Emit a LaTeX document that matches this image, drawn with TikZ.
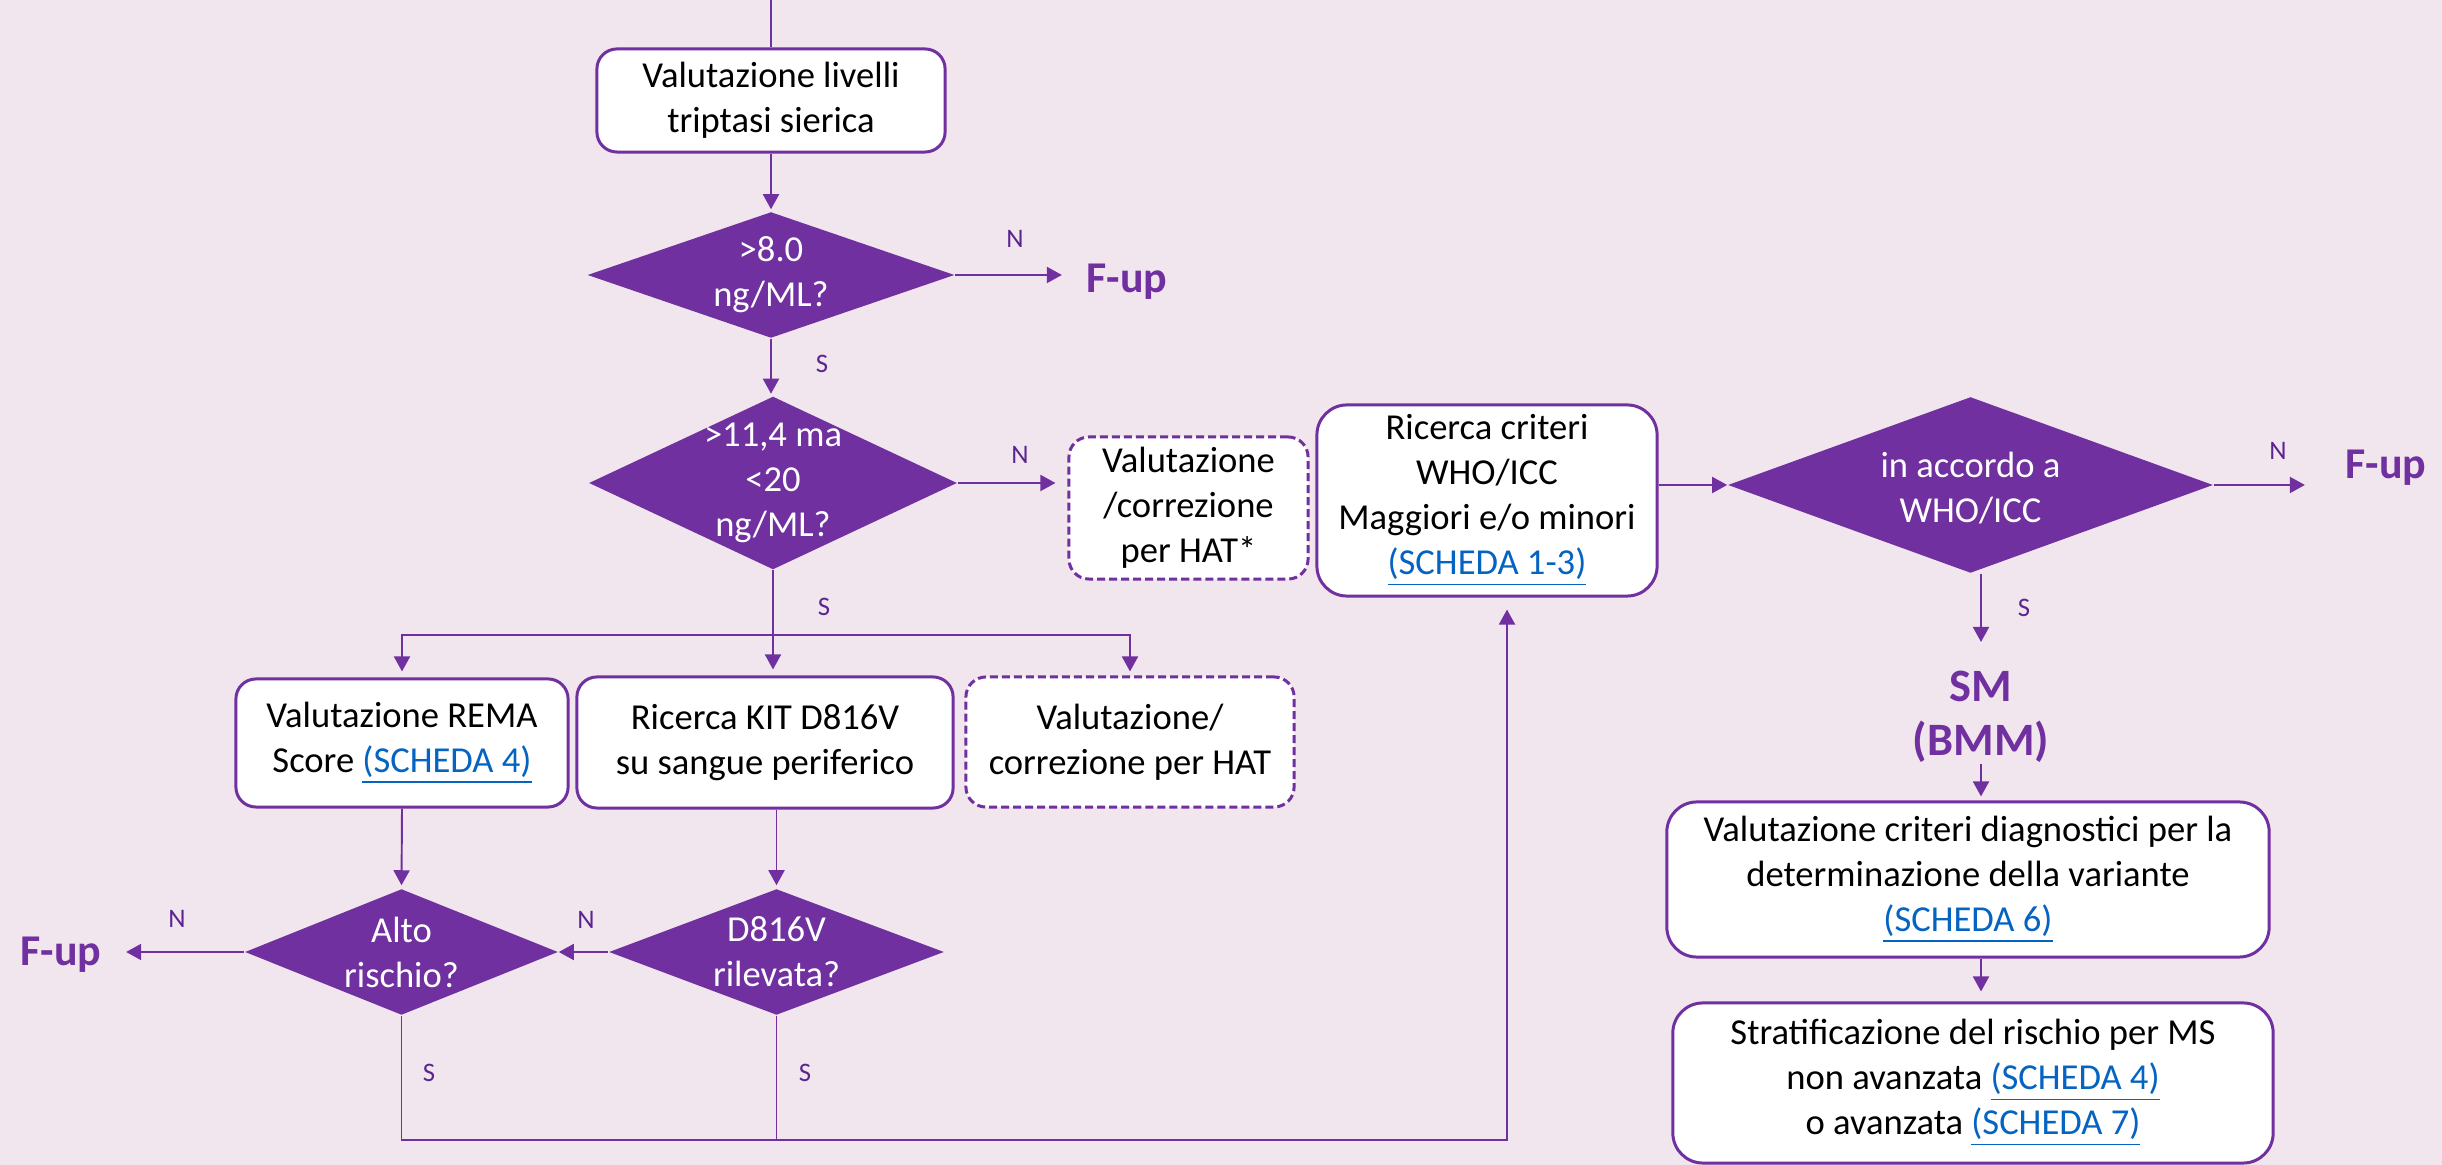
\documentclass[tikz,border=0pt]{standalone}
\usepackage{fontspec}
\setmainfont{Carlito}
\usetikzlibrary{shapes.geometric,arrows.meta,calc}
\definecolor{mspurple}{HTML}{7030A0}
\definecolor{lblpurple}{HTML}{5B2590}
\definecolor{bgpink}{RGB}{242,230,238}
\definecolor{linkblue}{HTML}{0563C1}
\newcommand\lnk[1]{\textcolor{linkblue}{\underline{#1}}}

\tikzset{
  flowbox/.style={draw=mspurple, line width=0.85pt, fill=white, rounded corners=0.2cm,
    align=center, inner sep=0pt, font=\fontsize{10.4}{12.8}\selectfont},
  bigbox/.style={flowbox, rounded corners=0.3cm},
  dashbox/.style={flowbox, dash pattern=on 0.08cm off 0.04cm},
  decision/.style={diamond, fill=mspurple, inner sep=0pt},
  dtext/.style={text=white, align=center, inner sep=0pt, font=\fontsize{10.4}{12.8}\selectfont},
  yn/.style={text=lblpurple, inner sep=0pt, font=\fontsize{7.6}{9}\selectfont},
  fup/.style={text=mspurple, inner xsep=0.24cm, inner ysep=0pt, font=\fontsize{12.5}{15}\selectfont\bfseries},
  smtext/.style={text=mspurple, align=center, inner sep=0pt, font=\fontsize{13.2}{15.6}\selectfont\bfseries},
  conn/.style={draw=mspurple, line width=0.55pt},
  arr/.style={conn, -{Triangle[length=0.15cm,width=0.16cm]}},
}

\begin{document}
\begin{tikzpicture}[x=0.01cm, y=-0.01cm]
  % page background
  \fill[bgpink] (0,0) rectangle (2442,1165);
  \useasboundingbox (0,0) rectangle (2442,1165);

  % ---- main column ----
  \node[flowbox, minimum width=3.48cm, minimum height=1.03cm] (b1) at (771,100.5)
    {Valutazione livelli\\triptasi sierica};
  \node[decision, minimum width=3.67cm, minimum height=1.26cm] (d1) at (771,275) {};
  \node[dtext] at (d1) {>8.0\\ng/ML?};
  \node[fup] (fup1) at (1127,282) {F-up};

  \node[decision, minimum width=3.68cm, minimum height=1.73cm] (d2) at (773,483) {};
  \node[dtext] at (d2) {>11,4 ma\\<20\\ng/ML?};

  \node[dashbox, minimum width=2.39cm, minimum height=1.42cm] (hat1) at (1188.5,508)
    {Valutazione\\/correzione\\per HAT*};
  \node[bigbox, minimum width=3.40cm, minimum height=1.91cm] (ric) at (1487,500.5)
    {Ricerca criteri\\WHO/ICC\\Maggiori e/o minori\\\lnk{(SCHEDA 1-3)}};

  \node[decision, minimum width=4.85cm, minimum height=1.76cm] (d3) at (1970.5,485) {};
  \node[dtext] at (1970.5,488) {in accordo a\\WHO/ICC};
  \node[fup] (fup2) at (2386,468) {F-up};

  \node[smtext, anchor=north] (sm) at (1981,670) {SM\\(BMM)};

  \node[bigbox, minimum width=6.02cm, minimum height=1.55cm] (vcrit) at (1968,879.5)
    {Valutazione criteri diagnostici per la\\determinazione della variante\\\lnk{(SCHEDA 6)}};
  \node[bigbox, minimum width=6.00cm, minimum height=1.60cm] (strat) at (1973,1083)
    {Stratificazione del rischio per MS\\non avanzata \lnk{(SCHEDA 4)}\\o avanzata \lnk{(SCHEDA 7)}};

  % ---- lower branch ----
  \node[flowbox, minimum width=3.32cm, minimum height=1.28cm] (rema) at (402,743)
    {Valutazione REMA\\Score \lnk{(SCHEDA 4)}};
  \node[flowbox, minimum width=3.76cm, minimum height=1.31cm] (kit) at (765,742.5)
    {Ricerca KIT D816V\\su sangue periferico};
  \node[dashbox, minimum width=3.28cm, minimum height=1.30cm] (hat2) at (1130,742)
    {Valutazione/\\correzione per HAT};

  \node[decision, minimum width=3.13cm, minimum height=1.26cm] (alto) at (401.5,952) {};
  \node[dtext] at (alto) {Alto\\rischio?};
  \node[decision, minimum width=3.35cm, minimum height=1.26cm] (dkit) at (776.5,952) {};
  \node[dtext] at (dkit) {D816V\\rilevata?};
  \node[fup] (fup3) at (61,955) {F-up};

  % ---- yes / no labels ----
  \node[yn] at (1015,239) {N};
  \node[yn] at (822,364) {S};
  \node[yn] at (1020,455) {N};
  \node[yn] at (824,607) {S};
  \node[yn] at (2278,451) {N};
  \node[yn] at (2024,608) {S};
  \node[yn] at (177,919) {N};
  \node[yn] at (586,920) {N};
  \node[yn] at (429,1073) {S};
  \node[yn] at (805,1073) {S};

  % ---- connectors ----
  \coordinate (top) at (771,0);
  \draw[conn] (top) -- (b1.north);
  \draw[arr, shorten >=0.02cm] (b1.south) -- (d1.north);
  \draw[arr] (d1.east) -- (d1.east -| fup1.west);
  \draw[arr, shorten >=0.02cm] (d1.south) -- (d1.south |- d2.north);
  \draw[arr, shorten >=0.12cm] (d2.east) -- (d2.east -| hat1.west);
  \draw[arr] (ric.east |- d3.west) -- (d3.west);
  \draw[arr, shorten >=0.16cm] (d3.east) -- (d3.east -| fup2.west);
  \draw[arr, shorten >=0.28cm] (d3.south -| sm.north) -- (sm.north);
  \draw[arr, shorten >=0.04cm] (sm.south) -- (sm.south |- vcrit.north);
  \draw[arr, shorten >=0.1cm] (sm.south |- vcrit.south) -- (sm.south |- strat.north);

  \coordinate (br) at (773,635);
  \draw[conn] (d2.south) -- (br);
  \draw[arr, shorten >=0.06cm] (br) -| (rema.north);
  \draw[arr, shorten >=0.06cm] (br) -- (br |- kit.north);
  \draw[arr, shorten >=0.04cm] (br) -| (hat2.north);

  \draw[arr, shorten >=0.03cm] (rema.south) -- (alto.north);
  \draw[arr, shorten >=0.03cm] (kit.south -| dkit.north) -- (dkit.north);
  \draw[arr] (dkit.west) -- (alto.east);
  \draw[arr] (alto.west) -- (alto.west -| fup3.east);

  \coordinate (j) at (1507,1140);
  \draw[conn] (dkit.south) -- (dkit.south |- j);
  \draw[arr, shorten >=0.12cm] (alto.south) |- (j) -- (j |- ric.south);
\end{tikzpicture}
\end{document}
